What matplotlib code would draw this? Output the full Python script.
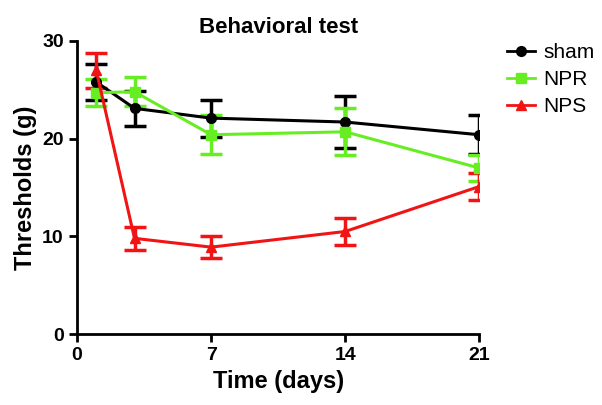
import numpy as np
import matplotlib.pyplot as plt
from matplotlib.lines import Line2D

plt.rcParams['font.family'] = ['Liberation Sans', 'DejaVu Sans']
plt.rcParams['font.weight'] = 'bold'

days = [1, 3, 7, 14, 21]

sham = [25.8, 23.1, 22.1, 21.7, 20.4]
sham_err = [1.8, 1.8, 1.9, 2.7, 2.0]

npr = [24.7, 24.8, 20.4, 20.7, 17.0]
npr_err = [1.4, 1.5, 2.0, 2.4, 1.3]

nps = [27.0, 9.8, 8.9, 10.5, 15.1]
nps_err = [1.8, 1.2, 1.1, 1.4, 1.4]

names = ['sham', 'NPR', 'NPS']
colors = ['black', '#66ee22', '#f01414']
markers = ['o', 's', '^']

fig = plt.figure(figsize=(6.02, 4.05), dpi=100)
ax = fig.add_axes([0.128, 0.175, 0.668, 0.724])

for vals, errs, c, m in zip([sham, npr, nps], [sham_err, npr_err, nps_err], colors, markers):
    ax.errorbar(days, vals, yerr=errs, color=c, marker=m, markersize=7,
                lw=2.2, elinewidth=2.5, capsize=8, capthick=2.5)

ax.set_xlim(0, 21)
ax.set_ylim(0, 30)
ax.set_xticks([0, 7, 14, 21])
ax.set_yticks([0, 10, 20, 30])
for s in ['top', 'right']:
    ax.spines[s].set_visible(False)
for s in ['left', 'bottom']:
    ax.spines[s].set_linewidth(2)
ax.tick_params(width=2, length=6, labelsize=14)
for lab in ax.get_xticklabels() + ax.get_yticklabels():
    lab.set_fontweight('bold')

ax.set_xlabel('Time (days)', fontsize=17, fontweight='bold')
ax.set_ylabel('Thresholds (g)', fontsize=17, fontweight='bold')
ax.set_title('Behavioral test', fontsize=16, fontweight='bold')

handles = [Line2D([], [], color=c, marker=m, markersize=7, lw=2)
           for c, m in zip(colors, markers)]
ax.legend(handles, names, loc='upper left', bbox_to_anchor=(1.049, 1.021), frameon=False,
          borderaxespad=0, prop={'size': 15, 'weight': 'normal'}, handlelength=1.35,
          handletextpad=0.4, labelspacing=0.38)

fig.savefig('out.png', dpi=100)
